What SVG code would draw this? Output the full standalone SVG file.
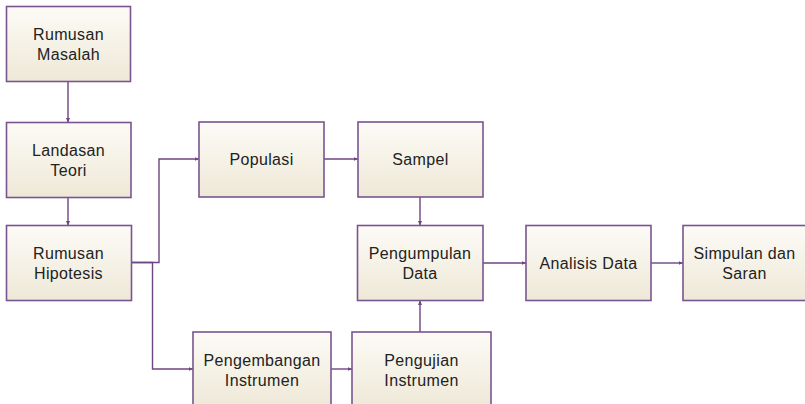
<svg xmlns="http://www.w3.org/2000/svg" width="805" height="404" viewBox="0 0 805 404">
  <defs>
    <linearGradient id="boxFill" x1="0" y1="0" x2="0" y2="1">
      <stop offset="0" stop-color="#fcfbf6"/>
      <stop offset="1" stop-color="#eee8d7"/>
    </linearGradient>
    <marker id="arrow" markerWidth="5" markerHeight="5" refX="4.5" refY="2.5" orient="auto" markerUnits="userSpaceOnUse">
      <path d="M0,0.5 L4.5,2.5 L0,4.5 Z" fill="#6e4483"/>
    </marker>
    <style>
      .box { fill: url(#boxFill); stroke: #7a5590; stroke-width: 1.6; }
      .lbl { font-family: 'Liberation Sans', sans-serif; font-size: 16px; letter-spacing: 0.35px; fill: #222222; text-anchor: middle; }
      .conn { fill: none; stroke: #6e4483; stroke-width: 1.4; marker-end: url(#arrow); }
    </style>
  </defs>
  <rect width="805" height="404" fill="#ffffff"/>

  <g id="connectors">
    <path class="conn" d="M68 81.5 V122.5"/>
    <path class="conn" d="M68 197.5 V225.5"/>
    <path class="conn" d="M131.5 262.5 H159 V159 H199"/>
    <path class="conn" d="M131.5 262.5 H152.5 V369 H193"/>
    <path class="conn" d="M324 159 H358"/>
    <path class="conn" d="M420 197 V225.5"/>
    <path class="conn" d="M420 332 V300.5"/>
    <path class="conn" d="M331 369 H352"/>
    <path class="conn" d="M483 263 H526"/>
    <path class="conn" d="M651 263 H683"/>
  </g>

  <g id="rumusan-masalah">
    <rect class="box" x="6.5" y="6.5" width="124" height="75"/>
    <text class="lbl" x="68.5" y="40">Rumusan</text>
    <text class="lbl" x="68.5" y="59.5">Masalah</text>
  </g>
  <g id="landasan-teori">
    <rect class="box" x="6.5" y="122.5" width="124.5" height="75"/>
    <text class="lbl" x="68.5" y="156">Landasan</text>
    <text class="lbl" x="68.5" y="175.5">Teori</text>
  </g>
  <g id="rumusan-hipotesis">
    <rect class="box" x="6.5" y="225.5" width="125" height="75"/>
    <text class="lbl" x="68.5" y="259">Rumusan</text>
    <text class="lbl" x="68.5" y="278.5">Hipotesis</text>
  </g>
  <g id="populasi">
    <rect class="box" x="199" y="122" width="125" height="75"/>
    <text class="lbl" x="261.5" y="165">Populasi</text>
  </g>
  <g id="sampel">
    <rect class="box" x="358" y="122" width="125" height="75"/>
    <text class="lbl" x="420.5" y="165">Sampel</text>
  </g>
  <g id="pengumpulan-data">
    <rect class="box" x="357.5" y="225.5" width="125.5" height="75"/>
    <text class="lbl" x="420" y="259">Pengumpulan</text>
    <text class="lbl" x="420" y="278.5">Data</text>
  </g>
  <g id="analisis-data">
    <rect class="box" x="526" y="225.5" width="125" height="75"/>
    <text class="lbl" x="588.5" y="268.5">Analisis Data</text>
  </g>
  <g id="simpulan-saran">
    <rect class="box" x="683" y="225.5" width="125" height="75"/>
    <text class="lbl" x="744.5" y="259">Simpulan dan</text>
    <text class="lbl" x="744.5" y="278.5">Saran</text>
  </g>
  <g id="pengembangan-instrumen">
    <rect class="box" x="193" y="332" width="138" height="76"/>
    <text class="lbl" x="262" y="366">Pengembangan</text>
    <text class="lbl" x="262" y="385.5">Instrumen</text>
  </g>
  <g id="pengujian-instrumen">
    <rect class="box" x="352" y="332" width="139" height="76"/>
    <text class="lbl" x="421.5" y="366">Pengujian</text>
    <text class="lbl" x="421.5" y="385.5">Instrumen</text>
  </g>
</svg>
